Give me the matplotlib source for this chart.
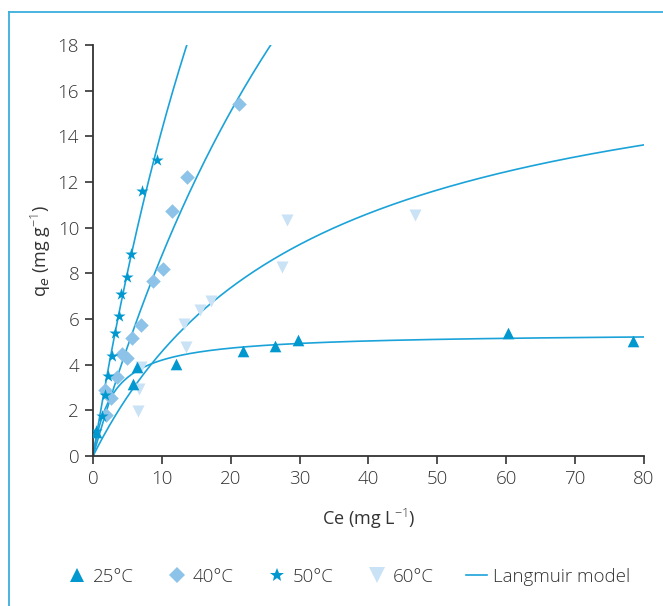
import numpy as np
import matplotlib
matplotlib.use("Agg")
import matplotlib.pyplot as plt
from matplotlib.lines import Line2D

plt.rcParams['font.family'] = ['Open Sans', 'DejaVu Sans']
plt.rcParams['font.weight'] = 'light'
plt.rcParams['mathtext.fontset'] = 'custom'
plt.rcParams['mathtext.rm'] = 'Open Sans:light'

# measured points (Ce, qe)
ce_25 = [0.5, 5.8, 6.4, 12.0, 21.8, 26.4, 29.8, 60.2, 78.4]
qe_25 = [1.06, 3.15, 3.9, 4.05, 4.6, 4.8, 5.1, 5.39, 5.05]

ce_40 = [1.9, 1.74, 2.6, 3.5, 4.25, 4.9, 5.6, 7.0, 8.75, 10.2, 11.4, 13.6, 21.2]
qe_40 = [1.8, 2.89, 2.54, 3.47, 4.45, 4.3, 5.15, 5.72, 7.65, 8.2, 10.75, 12.2, 15.4]

ce_50 = [0.5, 1.26, 1.74, 2.2, 2.8, 3.2, 3.8, 4.07, 4.9, 5.46, 7.15, 9.33]
qe_50 = [1.1, 1.75, 2.67, 3.5, 4.4, 5.4, 6.15, 7.08, 7.85, 8.85, 11.6, 12.95]

ce_60 = [6.5, 6.7, 7.0, 13.2, 13.5, 15.5, 17.2, 27.5, 28.1, 46.8]
qe_60 = [1.95, 2.95, 3.88, 5.78, 4.76, 6.4, 6.78, 8.3, 10.35, 10.55]

# Langmuir parameters (qm, KL) per temperature
langmuir = {"25": (5.4, 0.35), "40": (53.6, 0.0196),
            "50": (63.9, 0.0288), "60": (19.0, 0.0317)}

dark = '#0098cf'
mid = '#8dc3e8'
light = '#c9e2f5'
line_c = '#1ba3d9'
txt = '#333333'

fig = plt.figure(figsize=(6.63, 6.06), dpi=100)
ax = fig.add_axes([0.1403, 0.2475, 0.8310, 0.6782])

c = np.linspace(0, 80, 800)
for key, (qm, k) in langmuir.items():
    ax.plot(c, qm * k * c / (1 + k * c), color=line_c, lw=1.2, zorder=2)

ax.scatter(ce_60, qe_60, marker='v', s=75, color=light, lw=0, zorder=3)
ax.scatter(ce_40, qe_40, marker='D', s=55, color=mid, lw=0, zorder=3)
ax.scatter(ce_25, qe_25, marker='^', s=70, color=dark, lw=0, zorder=4)
ax.scatter(ce_50, qe_50, marker='*', s=85, color=dark, lw=0, zorder=4)

ax.set_xlim(0, 80)
ax.set_ylim(0, 18)
ax.set_xticks(range(0, 81, 10))
ax.set_yticks(range(0, 19, 2))
for s in ['top', 'right']:
    ax.spines[s].set_visible(False)
for s in ['left', 'bottom']:
    ax.spines[s].set_color('#333333')
    ax.spines[s].set_linewidth(1.3)
ax.tick_params(direction='out', length=6, width=1.2, color='#333333',
               labelsize=13.5, labelcolor=txt, pad=4)

ax.set_xlabel('Ce (mg L$^{-1}$)', fontsize=13, color=txt, labelpad=14)
ax.set_ylabel('q$_{e}$ (mg g$^{-1}$)', fontsize=13, color=txt, labelpad=3)

handles = [
    Line2D([], [], ls='', marker='^', ms=10, color=dark, mew=0),
    Line2D([], [], ls='', marker='D', ms=8, color=mid, mew=0),
    Line2D([], [], ls='', marker='*', ms=10, color=dark, mew=0),
    Line2D([], [], ls='', marker='v', ms=11, color=light, mew=0),
    Line2D([], [], color=line_c, lw=1.2),
]
labels = ['25°C', '40°C', '50°C', '60°C', 'Langmuir model']
leg = fig.legend(handles, labels, loc='center', bbox_to_anchor=(0.525, 0.048),
                 ncol=5, frameon=False, fontsize=13.5, handlelength=1.1,
                 handletextpad=0.3, columnspacing=1.75)
for t in leg.get_texts():
    t.set_color(txt)

# frame lines (top and left)
border = '#3aaedc'
fig.add_artist(Line2D([9 / 663, 1], [1 - 12 / 606, 1 - 12 / 606],
                      color=border, lw=1.3, transform=fig.transFigure))
fig.add_artist(Line2D([9 / 663, 9 / 663], [0, 1 - 12 / 606],
                      color=border, lw=1.3, transform=fig.transFigure))

fig.savefig('out.png', dpi=100)
